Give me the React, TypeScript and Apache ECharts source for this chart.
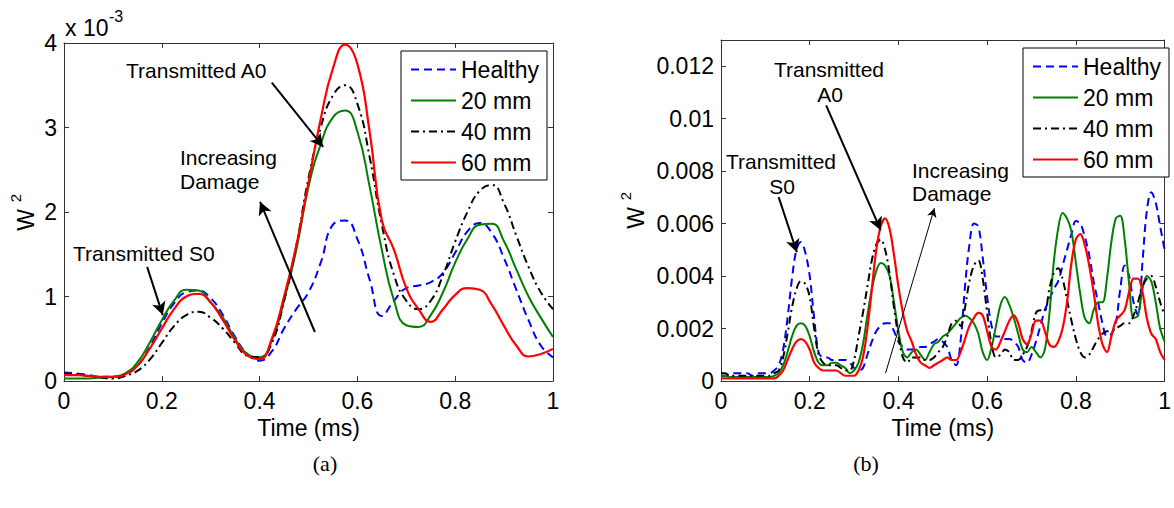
import { useEffect, useRef } from 'react';
import * as echarts from 'echarts';

const FONT = '"Liberation Sans", Arial, sans-serif';
const SERIES_NAMES = ['Healthy', '20 mm', '40 mm', '60 mm'];

// (a) time axis (ms) and W^2 values in units of 10^-3
const timeA = Array.from({ length: 41 }, (_, i) => +(i * 0.025).toFixed(3));
const healthyA = [0.10, 0.09, 0.07, 0.05, 0.05, 0.08, 0.18, 0.40, 0.68, 0.92, 1.05, 1.07, 0.98, 0.78, 0.52, 0.32, 0.24, 0.35, 0.62, 0.85, 1.05, 1.40, 1.85, 1.90, 1.68, 1.20, 0.77, 0.95, 1.10, 1.13, 1.17, 1.28, 1.52, 1.77, 1.87, 1.75, 1.45, 1.08, 0.72, 0.42, 0.28];
const mm20A = [0.03, 0.03, 0.03, 0.04, 0.05, 0.09, 0.22, 0.45, 0.72, 0.95, 1.08, 1.07, 0.93, 0.75, 0.50, 0.32, 0.28, 0.48, 0.95, 1.55, 2.30, 2.80, 3.12, 3.20, 2.95, 2.30, 1.55, 0.95, 0.66, 0.64, 0.78, 1.05, 1.40, 1.68, 1.85, 1.86, 1.65, 1.32, 1.00, 0.75, 0.52];
const mm40A = [0.09, 0.08, 0.06, 0.04, 0.03, 0.06, 0.12, 0.25, 0.45, 0.65, 0.78, 0.82, 0.75, 0.62, 0.45, 0.30, 0.28, 0.45, 0.95, 1.60, 2.40, 3.00, 3.38, 3.50, 3.28, 2.65, 1.85, 1.25, 0.95, 0.85, 0.95, 1.25, 1.65, 2.00, 2.25, 2.32, 2.10, 1.72, 1.35, 1.05, 0.85];
const mm60A = [0.07, 0.07, 0.06, 0.05, 0.05, 0.08, 0.18, 0.38, 0.62, 0.85, 1.00, 1.03, 0.93, 0.72, 0.48, 0.30, 0.26, 0.50, 1.00, 1.60, 2.35, 3.10, 3.70, 3.98, 3.75, 2.95, 1.90, 1.55, 1.10, 0.85, 0.70, 0.85, 1.02, 1.10, 1.08, 0.90, 0.65, 0.42, 0.29, 0.32, 0.38];

// (b) time axis (ms) and W^2 values
const timeB = Array.from({ length: 101 }, (_, i) => +(i * 0.01).toFixed(2));
const healthyB = [
  0.0002, 0.0002, 0.0002, 0.0003, 0.0003, 0.0003, 0.0003, 0.0002, 0.0003, 0.0003,
  0.0003, 0.0003, 0.0004, 0.0006, 0.0012, 0.0024, 0.0039, 0.0050, 0.0053, 0.0049,
  0.0040, 0.0024, 0.0011, 0.0009, 0.0009, 0.0008, 0.0008, 0.0008, 0.0008, 0.0007,
  0.0005, 0.0004, 0.0005, 0.0010, 0.0015, 0.0019, 0.0021, 0.0022, 0.0022, 0.0019,
  0.0015, 0.0013, 0.0012, 0.0012, 0.0012, 0.0013, 0.0013, 0.0014, 0.0015, 0.0016,
  0.0015, 0.0013, 0.0008, 0.0006, 0.0015, 0.0036, 0.0052, 0.0060, 0.0059, 0.0047,
  0.0032, 0.0021, 0.0017, 0.0017, 0.0016, 0.0016, 0.0015, 0.0013, 0.0008, 0.0007,
  0.0010, 0.0015, 0.0021, 0.0027, 0.0031, 0.0035, 0.0038, 0.0044, 0.0050, 0.0056,
  0.0061, 0.0060, 0.0055, 0.0048, 0.0038, 0.0030, 0.0022, 0.0017, 0.0018, 0.0022,
  0.0035, 0.0044, 0.0040, 0.0030, 0.0025, 0.0045, 0.0065, 0.0072, 0.0068, 0.0059,
  0.0050,
];
const mm20B = [
  0.0002, 0.0002, 0.00015, 0.00015, 0.00015, 0.00015, 0.00015, 0.00015, 0.00015, 0.00015,
  0.00015, 0.00015, 0.0002, 0.0003, 0.0006, 0.0011, 0.0017, 0.0021, 0.0022, 0.0021,
  0.0017, 0.0011, 0.0007, 0.0006, 0.0006, 0.0007, 0.0007, 0.0006, 0.0005, 0.0003,
  0.0004, 0.0007, 0.0014, 0.0025, 0.0035, 0.0042, 0.0045, 0.0044, 0.0040, 0.0030,
  0.0019, 0.0011, 0.0009, 0.0011, 0.0012, 0.0010, 0.0008, 0.0011, 0.0014, 0.0015,
  0.0017, 0.0018, 0.0020, 0.0022, 0.0024, 0.0025, 0.0024, 0.0022, 0.0018, 0.0011,
  0.0008, 0.0013, 0.0021, 0.0029, 0.0032, 0.0029, 0.0024, 0.0018, 0.0012, 0.0011,
  0.0013, 0.0011, 0.0009, 0.0012, 0.0025, 0.0045, 0.0058, 0.0064, 0.0062, 0.0057,
  0.0045, 0.0033, 0.0024, 0.0022, 0.0027, 0.0030, 0.0030, 0.0039, 0.0053, 0.0062,
  0.0063, 0.0054, 0.0037, 0.0024, 0.0025, 0.0035, 0.0040, 0.0038, 0.0030, 0.0020,
  0.0015,
];
const mm40B = [
  0.0003, 0.0003, 0.0002, 0.0002, 0.0002, 0.0002, 0.0002, 0.0002, 0.0002, 0.0002,
  0.0002, 0.0002, 0.0003, 0.0004, 0.0009, 0.0018, 0.0028, 0.0035, 0.0038, 0.0037,
  0.0032, 0.0020, 0.0010, 0.0007, 0.0006, 0.0006, 0.0006, 0.0005, 0.0004, 0.0004,
  0.0008, 0.0017, 0.0026, 0.0036, 0.0046, 0.0052, 0.0054, 0.0050, 0.0041, 0.0028,
  0.0017, 0.0009, 0.0007, 0.0009, 0.0009, 0.0009, 0.0008, 0.0008, 0.0009, 0.0011,
  0.0013, 0.0017, 0.0022, 0.0023, 0.0021, 0.0028, 0.0038, 0.0044, 0.0046, 0.0039,
  0.0026, 0.0014, 0.0009, 0.0010, 0.0012, 0.0011, 0.0008, 0.0008, 0.0010, 0.0013,
  0.0019, 0.0026, 0.0027, 0.0027, 0.0035, 0.0041, 0.0043, 0.0039, 0.0031, 0.0023,
  0.0016, 0.0011, 0.0009, 0.0010, 0.0013, 0.0016, 0.0018, 0.0019, 0.0019, 0.0020,
  0.0021, 0.0022, 0.0022, 0.0025, 0.0030, 0.0036, 0.0039, 0.0040, 0.0036, 0.0030,
  0.0025,
];
const mm60B = [
  0.0001, 0.0001, 0.0001, 0.0001, 0.0001, 0.0001, 0.0001, 0.0001, 0.0001, 0.0001,
  0.0001, 0.0001, 0.0001, 0.0002, 0.0004, 0.0008, 0.0012, 0.0015, 0.0016, 0.0015,
  0.0012, 0.0007, 0.0005, 0.0004, 0.0004, 0.0004, 0.0004, 0.0003, 0.0002, 0.0002,
  0.0002, 0.0004, 0.0009, 0.0020, 0.0035, 0.0050, 0.0059, 0.0062, 0.0058, 0.0048,
  0.0036, 0.0026, 0.0019, 0.0015, 0.0010, 0.0007, 0.0006, 0.0005, 0.0006, 0.0007,
  0.0008, 0.0009, 0.0008, 0.0008, 0.0011, 0.0016, 0.0021, 0.0024, 0.0026, 0.0025,
  0.0019, 0.0013, 0.0012, 0.0015, 0.0019, 0.0023, 0.0025, 0.0022, 0.0016, 0.0014,
  0.0018, 0.0023, 0.0023, 0.0019, 0.0014, 0.0013, 0.0015, 0.0020, 0.0030, 0.0045,
  0.0054, 0.0056, 0.0052, 0.0044, 0.0034, 0.0022, 0.0014, 0.0011, 0.0017, 0.0023,
  0.0025, 0.0027, 0.0034, 0.0039, 0.0039, 0.0034, 0.0024, 0.0018, 0.0016, 0.0011,
  0.0008,
];

// annotation arrows, in data coordinates [time, W^2]
const arrowsA = [
  { from: [0.425, 3.53], to: [0.530, 2.77], width: 2, head: 13 },
  { from: [0.513, 0.58], to: [0.401, 2.12], width: 2, head: 13 },
  { from: [0.170, 1.35], to: [0.202, 0.78], width: 2, head: 13 },
];
const arrowsB = [
  { from: [0.237, 0.01051], to: [0.360, 0.00575], width: 2, head: 13 },
  { from: [0.130, 0.00701], to: [0.171, 0.00491], width: 2, head: 13 },
  { from: [0.371, 0.0003], to: [0.481, 0.00659], width: 1, head: 9 },
];

const LINE_STYLES = [
  { color: '#0000ff', type: [8, 5], width: 2 },
  { color: '#008000', type: 'solid', width: 2 },
  { color: '#000000', type: [8, 4, 2, 4], width: 2 },
  { color: '#ff0000', type: 'solid', width: 2.2 },
];

function arrowData(list: any[]) {
  return list.map((a) => [
    { coord: a.from, symbol: 'none', lineStyle: { width: a.width, color: '#000', type: 'solid' } },
    { coord: a.to, symbol: 'arrow', symbolSize: [a.head * 0.8, a.head] },
  ]);
}

function buildSeries(time: number[], arrays: number[][], xIdx: number, yIdx: number, smooth: number, arrows: any[]) {
  return arrays.map((vals, k) => ({
    type: 'line',
    name: SERIES_NAMES[k],
    xAxisIndex: xIdx,
    yAxisIndex: yIdx,
    data: vals.map((v, i) => [time[i], v]),
    symbol: 'none',
    showSymbol: false,
    smooth,
    lineStyle: { ...LINE_STYLES[k] },
    itemStyle: { color: LINE_STYLES[k].color },
    emphasis: { disabled: true },
    silent: true,
    markLine:
      k === arrays.length - 1
        ? {
            silent: true,
            symbol: ['none', 'arrow'],
            label: { show: false },
            lineStyle: { color: '#000', type: 'solid', width: 2 },
            emphasis: { disabled: true },
            data: arrowData(arrows),
          }
        : undefined,
  }));
}

const AXIS_LINE = { show: true, onZero: false, lineStyle: { color: '#333', width: 1 } };
const AXIS_TICK = { show: true, inside: true, length: 5, lineStyle: { color: '#333', width: 1 } };
const LABEL = { color: '#000', fontSize: 23, fontFamily: FONT };

function xAxes(gridIndex: number) {
  return [
    {
      type: 'value', gridIndex, min: 0, max: 1, interval: 0.2, position: 'bottom',
      axisLine: AXIS_LINE, axisTick: AXIS_TICK, splitLine: { show: false },
      name: 'Time (ms)', nameLocation: 'middle', nameGap: 32,
      nameTextStyle: { ...LABEL },
      axisLabel: {
        ...LABEL, margin: 11, lineHeight: 17,
        formatter: (v: number) => String(+v.toFixed(2)),
      },
    },
    {
      type: 'value', gridIndex, min: 0, max: 1, interval: 0.2, position: 'top',
      axisLine: AXIS_LINE, axisTick: AXIS_TICK, splitLine: { show: false },
      axisLabel: { show: false },
    },
  ];
}

function yAxes(gridIndex: number, max: number, interval: number, digits: number) {
  return [
    {
      type: 'value', gridIndex, min: 0, max, interval, position: 'left',
      axisLine: AXIS_LINE, axisTick: AXIS_TICK, splitLine: { show: false },
      axisLabel: {
        ...LABEL, margin: 7, lineHeight: 17, showMaxLabel: max % interval === 0,
        formatter: (v: number) => String(+v.toFixed(digits)),
      },
    },
    {
      type: 'value', gridIndex, min: 0, max, interval, position: 'right',
      axisLine: AXIS_LINE, axisTick: AXIS_TICK, splitLine: { show: false },
      axisLabel: { show: false },
    },
  ];
}

function legend(left: number, top: number) {
  return {
    show: true,
    left, top,
    orient: 'vertical',
    data: SERIES_NAMES,
    itemWidth: 45,
    itemHeight: 10,
    itemGap: 8,
    padding: [7, 8, 6, 9],
    borderColor: '#000',
    borderWidth: 1,
    borderRadius: 0,
    backgroundColor: '#fff',
    selectedMode: false,
    itemStyle: { opacity: 0, borderWidth: 0 },
    textStyle: { ...LABEL, lineHeight: 23 },
  };
}

function text(x: number, y: number, t: string, extra: any = {}) {
  return {
    type: 'text', x, y, silent: true,
    style: {
      text: t, fill: '#000', fontSize: 21, fontFamily: FONT,
      align: 'left', verticalAlign: 'middle', textAlign: 'left', textVerticalAlign: 'middle',
      ...extra,
    },
  };
}

function rotText(x: number, y: number, t: string, size: number) {
  return {
    type: 'text', x, y, rotation: Math.PI / 2, silent: true,
    style: {
      text: t, fill: '#000', fontSize: size, fontFamily: FONT,
      align: 'center', verticalAlign: 'middle', textAlign: 'center', textVerticalAlign: 'middle',
    },
  };
}

export default function App() {
  const ref = useRef<HTMLDivElement>(null);
  useEffect(() => {
    if (!ref.current) return;
    const chart = echarts.init(ref.current, null, { renderer: 'svg' });
    const center = { align: 'center', textAlign: 'center' };
    const serif = { ...center, fontSize: 22, fontFamily: '"Liberation Serif", "Times New Roman", serif' };
    chart.setOption({
      animation: false,
      backgroundColor: '#ffffff',
      grid: [
        { left: 64, top: 43, width: 489, height: 338 },
        { left: 721, top: 40, width: 455, height: 341 },
      ],
      xAxis: [...xAxes(0), ...xAxes(1)],
      yAxis: [...yAxes(0, 4, 1, 0), ...yAxes(1, 0.013, 0.002, 3)],
      legend: [legend(401, 51), legend(1023, 48)],
      series: [
        ...buildSeries(timeA, [healthyA, mm20A, mm40A, mm60A], 0, 0, 0.5, arrowsA),
        ...buildSeries(timeB, [healthyB, mm20B, mm40B, mm60B], 2, 2, 0.35, arrowsB),
      ],
      graphic: [
        text(65, 28, 'x 10', { fontSize: 23 }),
        text(109, 16, '-3', { fontSize: 16 }),
        rotText(26, 220, 'W', 23),
        rotText(15, 198, '2', 15),
        rotText(636, 218, 'W', 23),
        rotText(625, 196, '2', 15),
        text(126, 70, 'Transmitted A0'),
        text(180, 157, 'Increasing'),
        text(180, 181, 'Damage'),
        text(73, 253, 'Transmitted S0'),
        text(829, 69, 'Transmitted', center),
        text(830, 94, 'A0', center),
        text(781, 161, 'Transmitted', center),
        text(782, 186, 'S0', center),
        text(912, 170, 'Increasing'),
        text(912, 193, 'Damage'),
        text(325, 463, '(a)', serif),
        text(866, 463, '(b)', serif),
      ],
    });
    return () => chart.dispose();
  }, []);
  return (
    <div
      ref={ref}
      style={{ position: 'absolute', left: 0, top: 0, width: 1174, height: 508, background: '#fff' }}
    />
  );
}
